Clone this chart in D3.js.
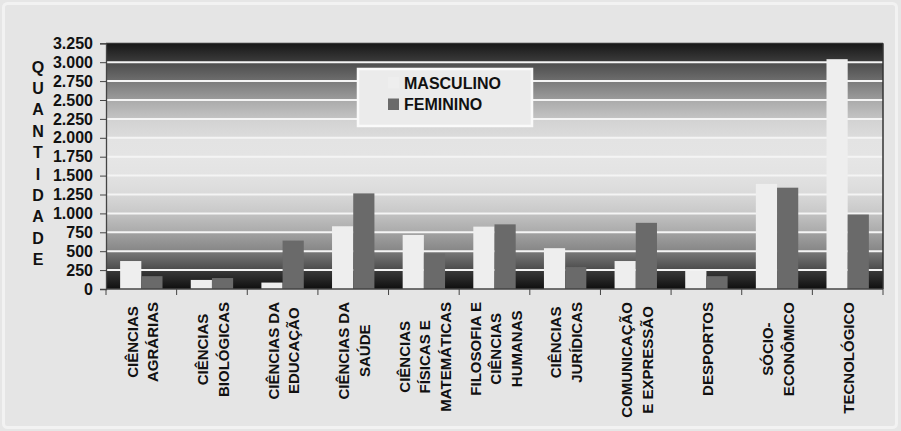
<!DOCTYPE html>
<html>
<head>
<meta charset="utf-8">
<script src="https://cdn.jsdelivr.net/npm/d3@7"></script>
<style>
  html, body { margin: 0; padding: 0; background: #e6e6e6; }
  svg { display: block; }
  text { font-family: "Liberation Sans", Arial, sans-serif; font-weight: bold; fill: #111; }
</style>
</head>
<body>
<svg id="chart" width="901" height="431"></svg>
<script>
// Áreas do conhecimento (rótulos quebrados em linhas)
const categories = [
  ["CIÊNCIAS", "AGRÁRIAS"],
  ["CIÊNCIAS", "BIOLÓGICAS"],
  ["CIÊNCIAS DA", "EDUCAÇÃO"],
  ["CIÊNCIAS DA", "SAÚDE"],
  ["CIÊNCIAS", "FÍSICAS E", "MATEMÁTICAS"],
  ["FILOSOFIA E", "CIÊNCIAS", "HUMANAS"],
  ["CIÊNCIAS", "JURÍDICAS"],
  ["COMUNICAÇÃO", "E EXPRESSÃO"],
  ["DESPORTOS"],
  ["SÓCIO-", "ECONÔMICO"],
  ["TECNOLÓGICO"]
];
const seriesNames = ["MASCULINO", "FEMININO"];
const masculino = [370, 120, 85, 830, 715, 825, 540, 370, 240, 1390, 3040];
const feminino  = [170, 145, 640, 1265, 470, 855, 290, 875, 170, 1340, 985];
const yTicks = [0, 250, 500, 750, 1000, 1250, 1500, 1750, 2000, 2250, 2500, 2750, 3000, 3250];
const axisTitle = "QUANTIDADE";

// Faixas de fundo entre as linhas de grade: [cor no topo, cor na base]
const bandColors = [
  ["#3a3a3a", "#0f0f0f"], // 0–250
  ["#7a7a7a", "#4a4a4a"],
  ["#a2a2a2", "#868686"],
  ["#c2c2c2", "#aaaaaa"],
  ["#d8d8d8", "#c8c8c8"],
  ["#e2e2e2", "#dadada"],
  ["#e6e6e6", "#e3e3e3"],
  ["#e3e3e3", "#e4e4e4"],
  ["#d2d2d2", "#dcdcdc"],
  ["#aaaaaa", "#c4c4c4"],
  ["#7a7a7a", "#9c9c9c"],
  ["#4c4c4c", "#6e6e6e"],
  ["#181818", "#3c3c3c"]  // 3000–3250
];
const seriesColors = ["#eeeeee", "#6a6a6a"];

const svg = d3.select("#chart");
const plot = { left: 106, right: 883, top: 43.3, bottom: 289 };

// Moldura externa
svg.append("rect").attr("x", 0).attr("y", 0).attr("width", 901).attr("height", 431).attr("fill", "#e6e6e6");
svg.append("rect").attr("x", 3.5).attr("y", 3.5).attr("width", 893).attr("height", 424)
  .attr("rx", 4).attr("fill", "#e5e5e5").attr("stroke", "#f2f2f2").attr("stroke-width", 3);

const y = d3.scaleLinear().domain([0, 3250]).range([plot.bottom, plot.top]);
const x0 = d3.scaleBand().domain(d3.range(categories.length))
  .range([plot.left, plot.right]).paddingInner(0.4).paddingOuter(0.2);
const x1 = d3.scaleBand().domain(seriesNames).range([0, x0.bandwidth()]).padding(0);

// Gradientes das faixas
const defs = svg.append("defs");
bandColors.forEach((c, i) => {
  const g = defs.append("linearGradient").attr("id", "band" + i)
    .attr("x1", 0).attr("y1", 0).attr("x2", 0).attr("y2", 1);
  g.append("stop").attr("offset", "0%").attr("stop-color", c[0]);
  g.append("stop").attr("offset", "100%").attr("stop-color", c[1]);
});

svg.append("g").selectAll("rect")
  .data(bandColors.map((c, i) => i))
  .join("rect")
  .attr("x", plot.left)
  .attr("width", plot.right - plot.left)
  .attr("y", i => y(yTicks[i + 1]))
  .attr("height", i => y(yTicks[i]) - y(yTicks[i + 1]))
  .attr("fill", i => "url(#band" + i + ")");

// Linhas de grade
svg.append("g").selectAll("line")
  .data(yTicks.slice(1, -1))
  .join("line")
  .attr("x1", plot.left).attr("x2", plot.right)
  .attr("y1", d => y(d)).attr("y2", d => y(d))
  .attr("stroke", "#f4f4f4").attr("stroke-width", 2);

// Barras
const rows = categories.map((c, i) => ({ i, values: [masculino[i], feminino[i]] }));
svg.append("g").selectAll("g")
  .data(rows)
  .join("g")
  .attr("transform", d => `translate(${x0(d.i)},0)`)
  .selectAll("rect")
  .data(d => d.values.map((v, k) => ({ k, v })))
  .join("rect")
  .attr("x", d => x1(seriesNames[d.k]))
  .attr("width", x1.bandwidth())
  .attr("y", d => y(d.v))
  .attr("height", d => y(0) - y(d.v))
  .attr("fill", d => seriesColors[d.k]);

// Borda da área de plotagem
svg.append("line").attr("x1", plot.left).attr("x2", plot.right)
  .attr("y1", plot.top).attr("y2", plot.top).attr("stroke", "#333").attr("stroke-width", 1.2);
svg.append("line").attr("x1", plot.right).attr("x2", plot.right)
  .attr("y1", plot.top).attr("y2", plot.bottom).attr("stroke", "#333").attr("stroke-width", 1.5);

// Eixo Y
const fmt = d3.formatLocale({ decimal: ",", thousands: ".", grouping: [3], currency: ["", ""] }).format(",");
const yAxis = svg.append("g").attr("transform", `translate(${plot.left},0)`)
  .call(d3.axisLeft(y).tickValues(yTicks).tickFormat(fmt).tickSize(6).tickPadding(7));
yAxis.select(".domain").attr("stroke", "#444").attr("stroke-width", 1.3);
yAxis.selectAll(".tick line").attr("stroke", "#444");
yAxis.selectAll(".tick text").style("font-size", "16px")
  .style("font-family", "'Liberation Sans', Arial, sans-serif").style("font-weight", "bold").attr("fill", "#111");

// Eixo X
const boundaries = d3.range(categories.length + 1).map(i => plot.left + i * x0.step());
svg.append("line").attr("x1", plot.left).attr("x2", plot.right)
  .attr("y1", plot.bottom).attr("y2", plot.bottom).attr("stroke", "#444").attr("stroke-width", 1.3);
svg.append("g").selectAll("line").data(boundaries).join("line")
  .attr("x1", d => d).attr("x2", d => d)
  .attr("y1", plot.bottom).attr("y2", plot.bottom + 6)
  .attr("stroke", "#444");

// Rótulos das categorias (rotacionados)
const lineGap = 20.5;
const labelTop = 302;
categories.forEach((lines, i) => {
  const cx = x0(i) + x0.bandwidth() / 2;
  const g = svg.append("g");
  const texts = lines.map((t, k) => {
    const lx = cx + (k - (lines.length - 1) / 2) * lineGap;
    return g.append("text")
      .attr("text-anchor", "middle")
      .attr("dominant-baseline", "central")
      .style("font-size", "15px")
      .text(t)
      .datum(lx);
  });
  const maxLen = d3.max(texts, t => t.node().getComputedTextLength());
  const cy = labelTop + maxLen / 2;
  texts.forEach(t => {
    const lx = t.datum();
    t.attr("transform", `translate(${lx + 1},${cy}) rotate(-90)`);
  });
});

// Título do eixo Y (letras empilhadas)
const letters = axisTitle.split("");
svg.append("g").selectAll("text").data(letters).join("text")
  .attr("x", 38)
  .attr("y", (d, i) => 67 + i * 21.4)
  .attr("text-anchor", "middle")
  .attr("dominant-baseline", "central")
  .style("font-size", "16px")
  .text(d => d);

// Legenda
const legend = svg.append("g");
legend.append("rect").attr("x", 358).attr("y", 69).attr("width", 174).attr("height", 57)
  .attr("fill", "#ebebeb").attr("stroke", "#fafafa").attr("stroke-width", 2.5);
seriesNames.forEach((name, k) => {
  const baseY = 88.5 + k * 21.5;
  legend.append("rect").attr("x", 388).attr("y", baseY - 11.5).attr("width", 11).attr("height", 11.5)
    .attr("fill", seriesColors[k]);
  legend.append("text").attr("x", 404).attr("y", baseY)
    .style("font-size", "16px").text(name);
});
</script>
</body>
</html>
